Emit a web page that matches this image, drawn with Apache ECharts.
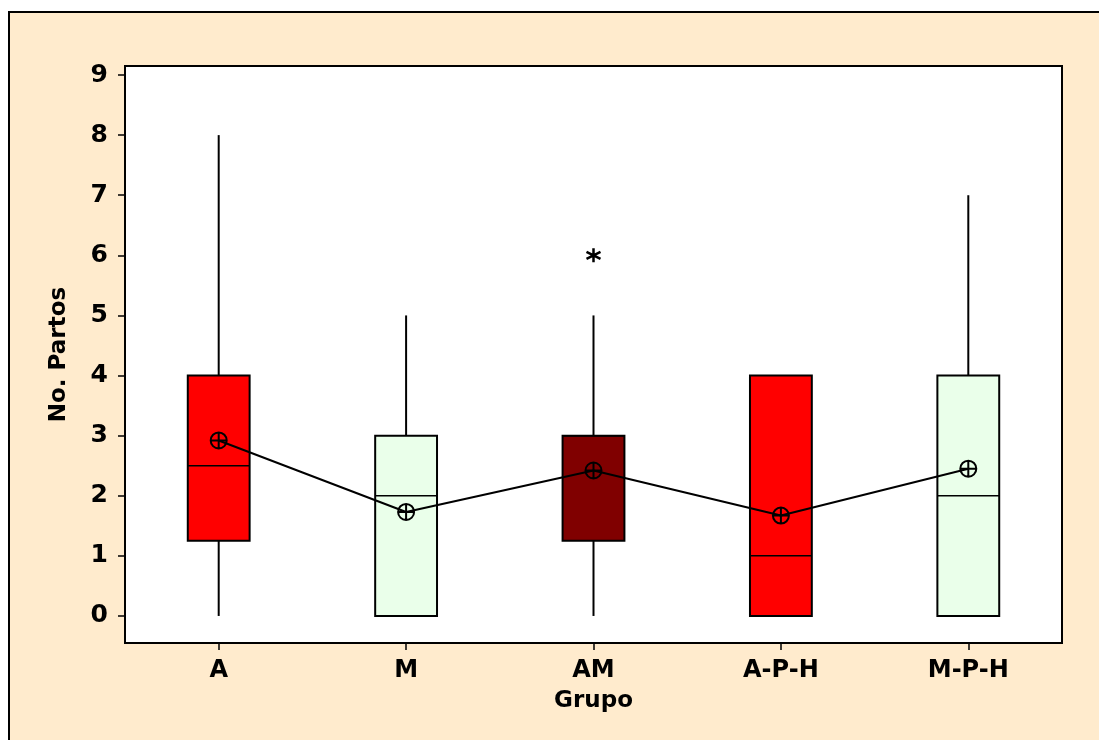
<!DOCTYPE html>
<html>
<head>
<meta charset="utf-8">
<script src="https://cdn.jsdelivr.net/npm/echarts@6/dist/echarts.min.js"></script>
<style>
html,body{margin:0;padding:0;background:#fff;}
#main{width:1099px;height:740px;}
</style>
</head>
<body>
<div id="main"></div>
<script>
// ---- data ----
var categories = ['A', 'M', 'AM', 'A-P-H', 'M-P-H'];
var whiskerLow = [0, 0, 0, 0, 0];
var q1 = [1.25, 0, 1.25, 0, 0];
var median = [2.5, 2, 3, 1, 2];
var q3 = [4, 3, 3, 4, 4];
var whiskerHigh = [8, 5, 5, 4, 7];
var means = [2.92, 1.73, 2.42, 1.67, 2.45];
var outlierCats = ['AM'];
var outlierValues = [6];
var yTicks = [0, 1, 2, 3, 4, 5, 6, 7, 8, 9];
// ---- styles ----
var boxColors = ['#FF0000', '#EAFFEA', '#800000', '#FF0000', '#EAFFEA'];
var FONT = '"DejaVu Sans", Verdana, sans-serif';

var boxData = categories.map(function (c, i) {
  return [i, whiskerLow[i], q1[i], median[i], q3[i], whiskerHigh[i]];
});
var meanData = categories.map(function (c, i) { return [c, means[i]]; });
var outlierData = outlierCats.map(function (c, i) { return [c, outlierValues[i]]; });

var chart = echarts.init(document.getElementById('main'), null, {renderer: 'canvas'});
var option = {
  backgroundColor: '#ffffff',
  animation: false,
  graphic: [{
    type: 'rect',
    z: -100,
    shape: {x: 9, y: 12, width: 2000, height: 2000},
    style: {fill: '#FFEBCD', stroke: '#000', lineWidth: 2}
  }],
  grid: {
    left: 125, right: 37, top: 66, bottom: 97,
    show: true, backgroundColor: '#ffffff', borderColor: '#000', borderWidth: 2,
    containLabel: false, outerBoundsMode: 'none'
  },
  xAxis: {
    type: 'category',
    data: categories,
    boundaryGap: true,
    name: 'Grupo',
    nameLocation: 'middle',
    nameGap: 47,
    nameTextStyle: {fontFamily: FONT, fontWeight: 'bold', fontSize: 23, color: '#000'},
    axisLine: {show: true, onZero: false, lineStyle: {color: '#000', width: 2}},
    axisTick: {show: true, alignWithLabel: true, length: 7, lineStyle: {color: '#000', width: 1.5}},
    axisLabel: {fontFamily: FONT, fontWeight: 'bold', fontSize: 24, color: '#000', margin: 16},
    splitLine: {show: false}
  },
  yAxis: {
    type: 'value',
    min: -0.45,
    max: 9.15,
    name: 'No. Partos',
    nameLocation: 'middle',
    nameGap: 54,
    nameRotate: 90,
    nameTextStyle: {fontFamily: FONT, fontWeight: 'bold', fontSize: 23, color: '#000'},
    axisLine: {show: true, lineStyle: {color: '#000', width: 2}},
    axisTick: {show: true, length: 7, customValues: yTicks, lineStyle: {color: '#000', width: 1.5}},
    axisLabel: {fontFamily: FONT, fontWeight: 'bold', fontSize: 25, color: '#000', margin: 17, customValues: yTicks},
    splitLine: {show: false}
  },
  series: [
    {
      type: 'custom',
      z: 2,
      data: boxData,
      encode: {x: 0, y: [1, 2, 3, 4, 5]},
      renderItem: function (params, api) {
        var i = api.value(0);
        var x = api.coord([i, 0])[0];
        var yLo = api.coord([i, api.value(1)])[1];
        var yQ1 = api.coord([i, api.value(2)])[1];
        var yMed = api.coord([i, api.value(3)])[1];
        var yQ3 = api.coord([i, api.value(4)])[1];
        var yHi = api.coord([i, api.value(5)])[1];
        var bw = api.size([1, 0])[0] * 0.33;
        var ls = {stroke: '#000', lineWidth: 2};
        return {
          type: 'group',
          children: [
            {type: 'line', shape: {x1: x, y1: yQ3, x2: x, y2: yHi}, style: ls},
            {type: 'line', shape: {x1: x, y1: yQ1, x2: x, y2: yLo}, style: ls},
            {type: 'rect', shape: {x: x - bw / 2, y: yQ3, width: bw, height: yQ1 - yQ3},
              style: {fill: boxColors[i], stroke: '#000', lineWidth: 2}},
            {type: 'line', shape: {x1: x - bw / 2, y1: yMed, x2: x + bw / 2, y2: yMed},
              style: {stroke: '#000', lineWidth: 1.5}}
          ]
        };
      }
    },
    {
      type: 'line',
      z: 5,
      data: meanData,
      symbol: 'path://M0,-10 A10,10 0 1,1 0,10 A10,10 0 1,1 0,-10 Z M-10,0 L10,0 M0,-10 L0,10',
      symbolSize: 16,
      showAllSymbol: true,
      lineStyle: {color: '#000', width: 2},
      itemStyle: {color: 'rgba(0,0,0,0)', borderColor: '#000', borderWidth: 2}
    },
    {
      type: 'scatter',
      z: 5,
      data: outlierData,
      symbol: 'path://M0,-10 L0,10 M-8.66,-5 L8.66,5 M-8.66,5 L8.66,-5',
      symbolSize: 14,
      itemStyle: {color: '#000', borderColor: '#000', borderWidth: 2.5, opacity: 1}
    }
  ]
};
chart.setOption(option);
</script>
</body>
</html>
